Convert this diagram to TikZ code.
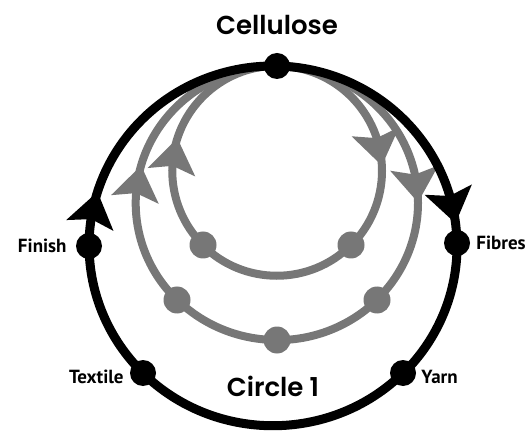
\documentclass[tikz,border=0pt]{standalone}
\usepackage{fontspec}
\newfontfamily\headfont{Poppins}[UprightFont={* SemiBold}]
\newfontfamily\labelfont{PT Sans}
\usetikzlibrary{arrows.meta}
\usetikzlibrary{positioning}
\usetikzlibrary{decorations.markings, backgrounds}

\definecolor{loopgrey}{RGB}{119,119,119}

\begin{document}
\begin{tikzpicture}[x=1pt, y=1pt,
  bigdot/.style={circle, fill=black, inner sep=0pt, minimum size=26pt},
  greydot/.style={circle, fill=loopgrey, inner sep=0pt, minimum size=27pt},
  stagelabel/.style={font=\labelfont\bfseries\fontsize{19}{19}\selectfont, inner sep=0pt},
  headlabel/.style={font=\headfont\fontsize{26}{26}\selectfont, inner sep=0pt},
  mainloop/.style={line width=9pt, draw=black},
  subloop/.style={line width=8pt, draw=loopgrey},
  flowtip/.style 2 args={postaction={decorate}, decoration={markings, mark=at position #1 with {\pgftransformrotate{#2}\arrow{Stealth[length=34pt, width=47pt, inset=6pt]}}}}]

\useasboundingbox (0,0) rectangle (532,431);

% stages on the big circle
\node[bigdot] (cel) at (277,365) {};
\node[bigdot] (fib) at (457,188) {};
\node[bigdot] (yarn) at (403,58) {};
\node[bigdot] (tex) at (143,58) {};
\node[bigdot] (fin) at (89,185) {};

% stages on the grey loops
\node[greydot] (irgt) at (351,186) {};
\node[greydot] (ilft) at (203,186) {};
\node[greydot] (orgt) at (377,131) {};
\node[greydot] (obot) at (277,91) {};
\node[greydot] (olft) at (177,131) {};

\node[headlabel, above=18pt of cel] (title) {Cellulose};
\node[headlabel] (circ) at (273,45) {Circle 1};
\node[stagelabel, right=6pt of fib] {Fibres};
\node[stagelabel, right=5pt of yarn, yshift=-4pt] {Yarn};
\node[stagelabel, left=6pt of tex, yshift=-4pt] {Textile};
\node[stagelabel, left=9pt of fin] {Finish};

\begin{scope}[on background layer]
\draw[subloop, flowtip={0.645}{8}] (cel.center) arc[start angle=90, end angle=-45, radius=105];
\draw[subloop] (irgt.center) arc[start angle=-45, end angle=-135, radius=105];
\draw[subloop, flowtip={0.467}{8}] (ilft.center) arc[start angle=225, end angle=90, radius=105];

\draw[subloop, flowtip={0.667}{6}] (cel.center) arc[start angle=90, end angle=-45, x radius=141, y radius=137];
\draw[subloop] (orgt.center) arc[start angle=-45, end angle=-90, x radius=141, y radius=137];
\draw[subloop] (obot.center) arc[start angle=-90, end angle=-135, x radius=141, y radius=137];
\draw[subloop, flowtip={0.448}{6}] (olft.center) arc[start angle=225, end angle=90, x radius=141, y radius=137];

\draw[mainloop, flowtip={0.93}{5}] (cel.center) arc[start angle=88.75, end angle=1, x radius=184, y radius=180];
\draw[mainloop] (fib.center) arc[start angle=1, end angle=-45, x radius=184, y radius=180];
\draw[mainloop] (yarn.center) arc[start angle=-45, end angle=-135, x radius=184, y radius=180];
\draw[mainloop] (tex.center) arc[start angle=225, end angle=180, x radius=184, y radius=180];
\draw[mainloop, flowtip={0.19}{5}] (fin.center) arc[start angle=180, end angle=88.75, x radius=184, y radius=180];
\end{scope}

\end{tikzpicture}
\end{document}
